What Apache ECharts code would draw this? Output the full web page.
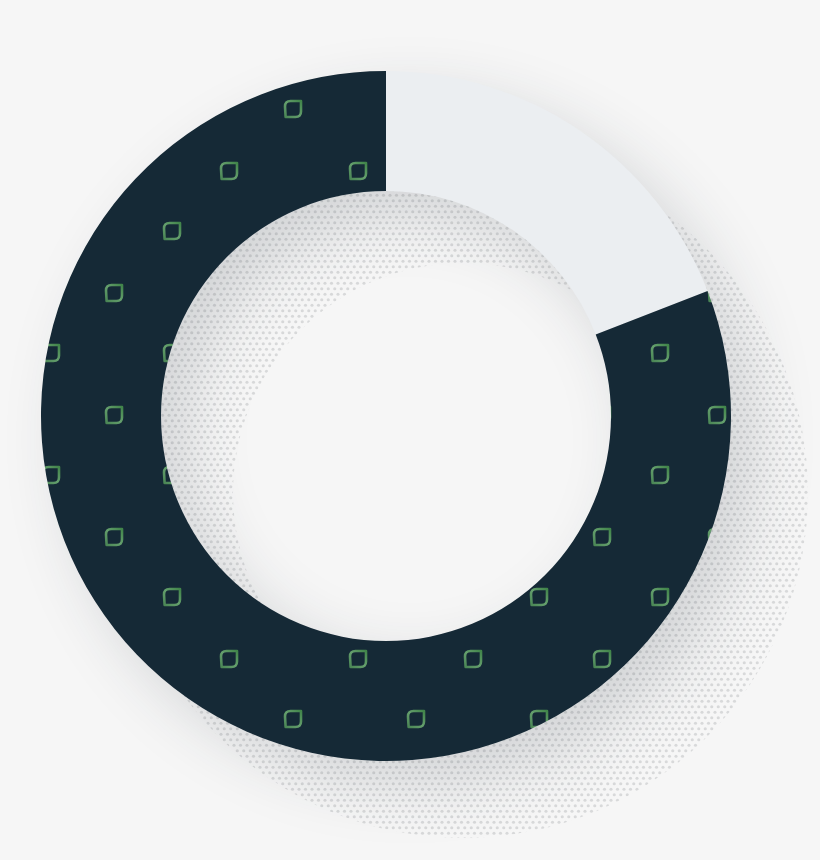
<!DOCTYPE html>
<html><head><meta charset="utf-8">
<style>html,body{margin:0;padding:0;background:#f6f6f6}#c{width:820px;height:860px}</style>
<script src="https://cdn.jsdelivr.net/npm/echarts@6/dist/echarts.min.js"></script>
</head><body><div id="c"></div>
<script>
const categories = ['Remaining', 'Share'];
const values = [19.1, 80.9];
const ringValues = [100];

function tile(w, h, draw) {
  const cv = document.createElement('canvas');
  cv.width = w; cv.height = h;
  draw(cv.getContext('2d'));
  return cv;
}
function leaf(g, cx, cy) {
  const s = 8, r = 5.5;
  g.save();
  g.translate(cx, cy);
  const grad = g.createLinearGradient(-s, s, s, -s);
  grad.addColorStop(0, '#4a8655');
  grad.addColorStop(0.5, '#659f6d');
  grad.addColorStop(1, '#41854a');
  g.strokeStyle = grad;
  g.lineWidth = 2.6;
  g.lineJoin = 'round';
  g.beginPath();
  g.moveTo(s, -s);
  g.lineTo(-s + r, -s);
  g.quadraticCurveTo(-s, -s, -s, -s + r);
  g.lineTo(-s + 0.6, s);
  g.lineTo(s - r, s);
  g.quadraticCurveTo(s, s, s, s - r);
  g.closePath();
  g.stroke();
  g.restore();
}
const leafTile = tile(488, 122, g => {
  g.fillStyle = '#152936';
  g.fillRect(0, 0, 488, 122);
  [[51, 109], [172, 109], [293, 109], [416, 109], [114, 49], [229, 49], [358, 49], [473, 49]].forEach(p => leaf(g, p[0], p[1]));
});
const dotTile = tile(13, 22, g => {
  g.fillStyle = '#d8d9da';
  [[3.25, 2.75], [9.75, 2.75], [0, 8.25], [6.5, 8.25], [13, 8.25], [3.25, 13.75], [9.75, 13.75], [0, 19.25], [6.5, 19.25], [13, 19.25]].forEach(p => {
    g.beginPath(); g.arc(p[0], p[1], 1.55, 0, Math.PI * 2); g.fill();
  });
});

const chart = echarts.init(document.getElementById('c'), null, { renderer: 'canvas' });
const base = { type: 'pie', silent: true, animation: false, clockwise: true, startAngle: 90, label: { show: false }, labelLine: { show: false }, emphasis: { disabled: true } };
chart.setOption({
  backgroundColor: '#f6f6f6',
  tooltip: { show: false },
  series: [
    Object.assign({}, base, {
      center: [463, 493], radius: [230, 345], z: 1,
      data: ringValues.map(v => ({ value: v, itemStyle: { color: { image: dotTile, repeat: 'repeat' } } }))
    }),
    Object.assign({}, base, {
      center: [386, 416], radius: [228, 342], z: 2,
      data: ringValues.map(v => ({ value: v, itemStyle: { color: '#dfe2e5', shadowBlur: 65, shadowColor: 'rgba(40,50,60,0.18)', shadowOffsetX: 24, shadowOffsetY: 24 } }))
    }),
    Object.assign({}, base, {
      center: [386, 416], radius: [225, 345], z: 3,
      data: categories.map((c, i) => ({
        name: c, value: values[i],
        itemStyle: { color: i === 0 ? '#ebeef1' : { image: leafTile, repeat: 'repeat' } }
      }))
    })
  ]
});
</script></body></html>
